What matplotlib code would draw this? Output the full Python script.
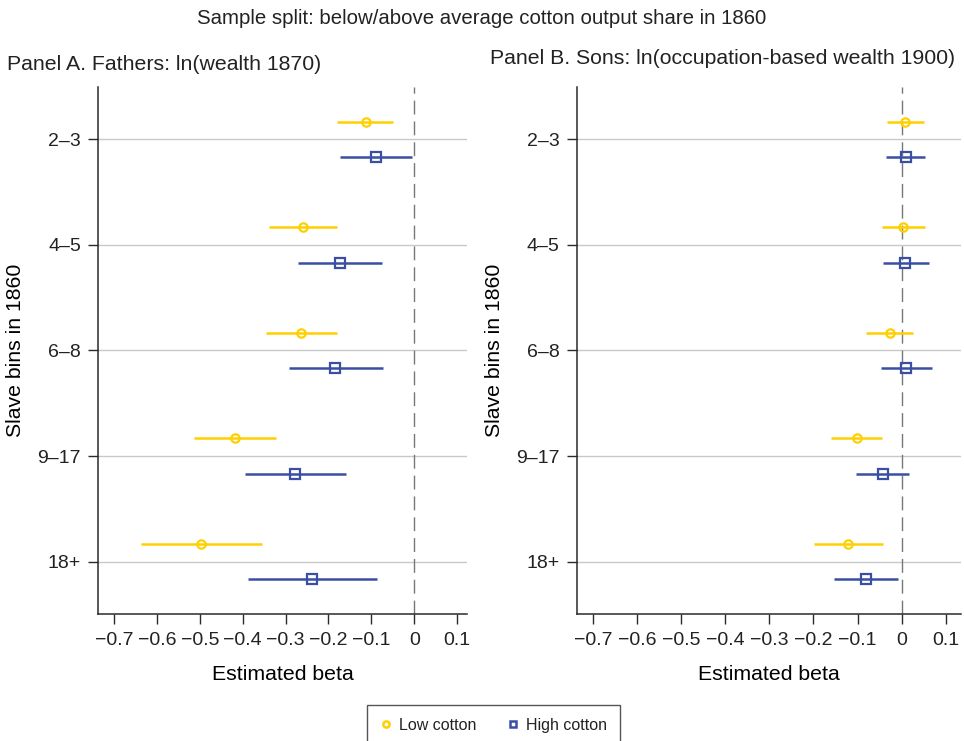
"""Coefficient plot: slave bins in 1860, split by cotton output share."""

import matplotlib
matplotlib.use("Agg")
import matplotlib.pyplot as plt
from matplotlib.lines import Line2D


BINS = ["2–3", "4–5", "6–8", "9–17", "18+"]

# Panel A: fathers, ln(wealth 1870)
A_LOW_B = [-0.113, -0.260, -0.264, -0.418, -0.497]
A_LOW_LO = [-0.179, -0.338, -0.346, -0.514, -0.637]
A_LOW_HI = [-0.049, -0.181, -0.180, -0.322, -0.356]
A_HIGH_B = [-0.089, -0.174, -0.184, -0.279, -0.238]
A_HIGH_LO = [-0.173, -0.272, -0.293, -0.395, -0.387]
A_HIGH_HI = [-0.006, -0.075, -0.074, -0.159, -0.088]

# Panel B: sons, ln(occupation-based wealth 1900)
B_LOW_B = [0.008, 0.004, -0.027, -0.102, -0.121]
B_LOW_LO = [-0.033, -0.044, -0.081, -0.160, -0.199]
B_LOW_HI = [0.051, 0.053, 0.027, -0.044, -0.041]
B_HIGH_B = [0.010, 0.008, 0.010, -0.043, -0.081]
B_HIGH_LO = [-0.036, -0.042, -0.046, -0.104, -0.154]
B_HIGH_HI = [0.054, 0.062, 0.068, 0.018, -0.009]

XTICKS = [-0.7, -0.6, -0.5, -0.4, -0.3, -0.2, -0.1, 0, 0.1]
XTICK_LABELS = ["−0.7", "−0.6", "−0.5", "−0.4", "−0.3", "−0.2", "−0.1", "0", "0.1"]

YELLOW = "#FFD000"
BLUE = "#3A4FA3"
AXIS_COLOR = "#2A2A2A"
TEXT_COLOR = "#222222"

plt.rcParams["font.family"] = ["Liberation Sans", "DejaVu Sans"]
plt.rcParams["text.color"] = TEXT_COLOR


def draw_series(ax, ypos, beta, lo, hi, color, marker, ms):
    xerr = [[b - l for b, l in zip(beta, lo)], [h - b for b, h in zip(beta, hi)]]
    ax.errorbar(beta, ypos, xerr=xerr, fmt=marker, color=color, ecolor=color,
                elinewidth=1.8, capsize=0, markersize=ms, markerfacecolor="none",
                markeredgecolor=color, markeredgewidth=1.6, zorder=3)


def style_panel(ax, title, title_x, title_y, xlim):
    pos = range(1, len(BINS) + 1)
    ax.set_ylim(5.5, 0.5)
    ax.set_xlim(*xlim)
    ax.set_yticks(list(pos))
    ax.set_yticklabels(BINS)
    ax.set_xticks(XTICKS)
    ax.set_xticklabels(XTICK_LABELS)
    for p in pos:
        ax.axhline(p, color="#C8C8C8", linewidth=1.0, zorder=1)
    ax.axvline(0, color="#777777", linewidth=1.0, dashes=(10, 5), zorder=2)
    for side in ("top", "right"):
        ax.spines[side].set_visible(False)
    for side in ("left", "bottom"):
        ax.spines[side].set_color(AXIS_COLOR)
        ax.spines[side].set_linewidth(1.1)
    ax.tick_params(axis="both", length=7.5, width=1.0, color=AXIS_COLOR,
                   labelsize=14, labelcolor=TEXT_COLOR, pad=5)
    ax.set_xlabel("Estimated beta", fontsize=15.3, labelpad=12)
    ax.set_ylabel("Slave bins in 1860", fontsize=15.3, labelpad=9)
    ax.figure.text(title_x, title_y, title, fontsize=15.3, ha="left", va="center")


fig = plt.figure(figsize=(9.64, 7.41), dpi=100)
ax_a = fig.add_axes([0.102, 0.171, 0.382, 0.712])
ax_b = fig.add_axes([0.5985, 0.171, 0.3984, 0.712])

ypos = list(range(1, len(BINS) + 1))
low_y = [p - 0.17 for p in ypos]
high_y = [p + 0.17 for p in ypos]

draw_series(ax_a, low_y, A_LOW_B, A_LOW_LO, A_LOW_HI, YELLOW, "o", 6)
draw_series(ax_a, high_y, A_HIGH_B, A_HIGH_LO, A_HIGH_HI, BLUE, "s", 6.5)
draw_series(ax_b, low_y, B_LOW_B, B_LOW_LO, B_LOW_HI, YELLOW, "o", 6)
draw_series(ax_b, high_y, B_HIGH_B, B_HIGH_LO, B_HIGH_HI, BLUE, "s", 6.5)

style_panel(ax_a, "Panel A. Fathers: ln(wealth 1870)", 0.007, 1 - 65 / 741,
            (-0.7366, 0.122))
style_panel(ax_b, "Panel B. Sons: ln(occupation-based wealth 1900)", 0.508,
            1 - 58 / 741, (-0.737, 0.135))

fig.text(0.5, 1 - 18 / 741, "Sample split: below/above average cotton output share in 1860",
         fontsize=14.7, ha="center", va="center")

handles = [
    Line2D([], [], linestyle="none", marker="o", markersize=4.5, markerfacecolor="none",
           markeredgecolor=YELLOW, markeredgewidth=1.8, label="Low cotton"),
    Line2D([], [], linestyle="none", marker="s", markersize=4.5, markerfacecolor="none",
           markeredgecolor=BLUE, markeredgewidth=1.8, label="High cotton"),
]
leg = fig.legend(handles=handles, loc="upper center", bbox_to_anchor=(0.512, 1 - 705 / 741),
                 ncol=2, frameon=True, fancybox=False, fontsize=11.5, handlelength=0.8,
                 handletextpad=0.4, columnspacing=1.9, borderpad=0.8, borderaxespad=0)
leg.get_frame().set_edgecolor(AXIS_COLOR)
leg.get_frame().set_linewidth(1.0)

fig.savefig("out.png", dpi=100)
